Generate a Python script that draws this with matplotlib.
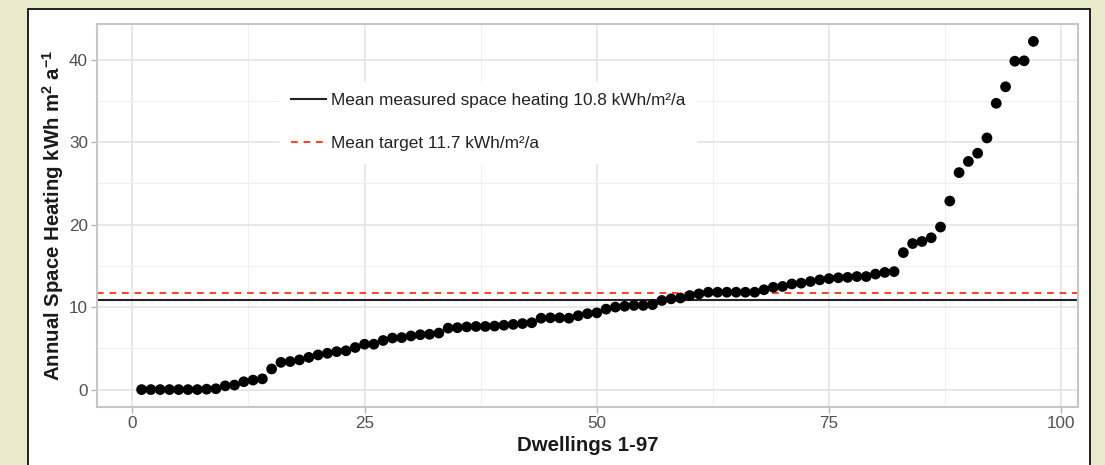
import matplotlib
matplotlib.use("Agg")
import matplotlib.pyplot as plt
from matplotlib.patches import Rectangle
from matplotlib.ticker import MultipleLocator
import numpy as np

# ---- data ----
dwelling = list(range(1, 98))
space_heating = [
    0.0, 0.0, 0.0, 0.0, 0.0, 0.0, 0.0, 0.05, 0.1, 0.45,
    0.55, 0.95, 1.15, 1.3, 2.5, 3.3, 3.4, 3.6, 3.9, 4.2,
    4.4, 4.6, 4.7, 5.1, 5.5, 5.5, 5.95, 6.25, 6.3, 6.5,
    6.65, 6.7, 6.85, 7.45, 7.5, 7.6, 7.65, 7.65, 7.7, 7.8,
    7.9, 8.0, 8.1, 8.65, 8.7, 8.7, 8.65, 8.95, 9.2, 9.3,
    9.75, 10.0, 10.1, 10.2, 10.2, 10.3, 10.8, 11.0, 11.1, 11.4,
    11.6, 11.8, 11.8, 11.8, 11.8, 11.8, 11.8, 12.1, 12.4, 12.5,
    12.8, 12.9, 13.1, 13.3, 13.45, 13.55, 13.6, 13.7, 13.7, 14.0,
    14.2, 14.3, 16.6, 17.7, 17.95, 18.4, 19.7, 22.85, 26.3, 27.65,
    28.65, 30.5, 34.7, 36.7, 39.8, 39.85, 42.2,
]
mean_measured = 10.8
mean_target = 11.7
legend_labels = ["Mean measured space heating 10.8 kWh/m\u00b2/a",
                 "Mean target 11.7 kWh/m\u00b2/a"]
x_ticks = [0, 25, 50, 75, 100]
y_ticks = [0, 10, 20, 30, 40]

plt.rcParams['font.family'] = ['Liberation Sans', 'DejaVu Sans']
plt.rcParams['mathtext.fontset'] = 'custom'
plt.rcParams['mathtext.rm'] = 'Liberation Sans:bold'
plt.rcParams['mathtext.bf'] = 'Liberation Sans:bold'
plt.rcParams['mathtext.it'] = 'Liberation Sans:bold'

W, H = 1105, 465
fig = plt.figure(figsize=(W / 100, H / 100), dpi=100, facecolor='#e7ebcc')

# white framed box
fig.patches.append(Rectangle((28 / W, -0.05), (1090 - 28) / W, (H - 9) / H + 0.05,
                             transform=fig.transFigure, facecolor='white',
                             edgecolor='#111111', linewidth=1.3, zorder=-10))

ax = fig.add_axes([97 / W, (H - 407) / H, (1078 - 97) / W, (407 - 24) / H])
ax.set_zorder(1)
ax.set_facecolor('white')

ax.set_xlim(-3.8, 101.8)
ax.set_ylim(-2.11, 44.31)
ax.set_xticks(x_ticks)
ax.set_yticks(y_ticks)
ax.xaxis.set_minor_locator(MultipleLocator(12.5))
ax.yaxis.set_minor_locator(MultipleLocator(5))

ax.grid(which='major', color='#e4e4e4', linewidth=1.2, zorder=0)
ax.grid(which='minor', color='#efefef', linewidth=0.8, zorder=0)
ax.set_axisbelow(True)
for sp in ax.spines.values():
    sp.set_color('#c6c6c6')
    sp.set_linewidth(1.5)

ax.tick_params(which='major', length=4.5, width=1, color='#b3b3b3',
               labelsize=12.3, labelcolor='#505050', pad=2)
ax.tick_params(which='minor', length=0)

l1 = ax.axhline(mean_measured, color='#222222', linewidth=1.5, zorder=2)
l2 = ax.axhline(mean_target, color='#f24a2c', linewidth=1.5,
                linestyle=(0, (3.2, 2.8)), zorder=2)

ax.scatter(dwelling, space_heating, s=60, color='black', edgecolors='none', zorder=3)

ax.set_xlabel("Dwellings 1-97", fontsize=14.7, fontweight='bold', color='#1a1a1a', va='top')
ax.xaxis.set_label_coords(0.5, (407 - 436) / 383)
ax.set_ylabel(r"Annual Space Heating kWh m$^{\mathbf{2}}$ a$^{\mathbf{-1}}$",
              fontsize=14.7, fontweight='bold', color='#1a1a1a', va='center')
ax.yaxis.set_label_coords((53 - 97) / 981, 0.5)

leg = ax.legend([l1, l2], legend_labels, loc='upper left',
                bbox_to_anchor=(280 / W, (H - 82) / H), bbox_transform=fig.transFigure,
                frameon=True, fancybox=False, framealpha=1, edgecolor='white',
                facecolor='white', fontsize=12.4, handlelength=2.0, handletextpad=0.3,
                labelspacing=1.63, borderpad=0.65, borderaxespad=0)
for t in leg.get_texts():
    t.set_color('#222222')

fig.savefig('out.png', dpi=100, facecolor=fig.get_facecolor())
